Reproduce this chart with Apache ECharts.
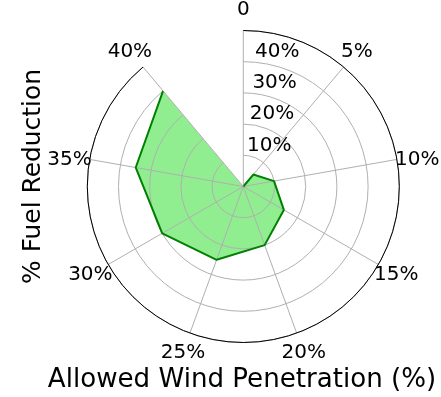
<!DOCTYPE html>
<html>
<head>
<meta charset="utf-8">
<script src="https://cdn.jsdelivr.net/npm/echarts@6/dist/echarts.min.js"></script>
<style>
  html, body { margin: 0; padding: 0; background: #fff; }
  #chart { width: 441px; height: 397px; }
</style>
</head>
<body>
<div id="chart"></div>
<script>
// Allowed wind penetration levels (angular categories, clockwise from top)
const penetrationLevels = ['0', '5%', '10%', '15%', '20%', '25%', '30%', '35%', '40%'];
// Fuel reduction (%) achieved at each penetration level
const fuelReduction = [0, 5, 10, 15, 20, 25, 30, 35, 40];
// Radial scale
const radialMin = 0;
const radialMax = 50;
const radialStep = 10;

const FONT = 'DejaVu Sans';

// Per-label padding [top, right, bottom, left] so every angular label sits
// centred on a ring just outside the plot circle.
const anglePadding = [
  [0, 0, 10.5, 0],
  [0, 0, 5.7, -2.6],
  [0, 0, 7, -2],
  [0.3, 0, 0, -4.4],
  [9.3, 0, 0, -15.2],
  [9.3, -15.2, 0, 0],
  [0.3, -4.4, 0, 0],
  [0, -2, 7, 0],
  [0, -9.1, 5.7, 0]
];

// Radial labels lean slightly clockwise off the vertical spoke
const radialLabelRich = {};
for (let v = radialMin + radialStep; v < radialMax; v += radialStep) {
  radialLabelRich['r' + v] = { padding: [0, 0, 0, v * 0.27] };
}

const chart = echarts.init(document.getElementById('chart'), null, { renderer: 'canvas' });

chart.setOption({
  backgroundColor: '#ffffff',
  animation: false,
  polar: { center: [243.3, 186.5], radius: 156 },
  angleAxis: {
    type: 'category',
    data: penetrationLevels.map((name, i) => ({
      value: name,
      textStyle: { padding: anglePadding[i] }
    })),
    startAngle: 90,
    clockwise: true,
    boundaryGap: false,
    z: 2,
    axisLine: { show: true, lineStyle: { color: '#000', width: 1 } },
    axisTick: { show: false },
    axisLabel: { show: true, margin: 0, color: '#000', fontFamily: FONT, fontSize: 20 },
    splitLine: { show: true, lineStyle: { color: '#b0b0b0', width: 1 } }
  },
  radiusAxis: {
    type: 'value',
    min: radialMin,
    max: radialMax,
    interval: radialStep,
    z: 2,
    axisLine: { show: false },
    axisTick: { show: false },
    axisLabel: {
      show: true,
      showMinLabel: false,
      showMaxLabel: false,
      margin: -1,
      align: 'left',
      verticalAlign: 'bottom',
      color: '#000',
      fontFamily: FONT,
      fontSize: 20,
      formatter: v => '{r' + v + '|' + v + '%}',
      rich: radialLabelRich
    },
    splitLine: { show: true, lineStyle: { color: '#b0b0b0', width: 1 } }
  },
  series: [
    {
      // filled region, drawn beneath the grid
      type: 'line',
      coordinateSystem: 'polar',
      data: fuelReduction,
      z: 1,
      symbol: 'none',
      lineStyle: { width: 0, opacity: 0 },
      areaStyle: { color: '#90ee90', opacity: 1 }
    },
    {
      // outline on top of the grid
      type: 'line',
      coordinateSystem: 'polar',
      data: fuelReduction,
      z: 3,
      symbol: 'none',
      lineStyle: { color: '#008000', width: 2 }
    }
  ],
  graphic: [
    {
      type: 'text',
      x: 242, y: 380,
      style: { text: 'Allowed Wind Penetration (%)', font: '26.1px "DejaVu Sans"', fill: '#000', align: 'center', verticalAlign: 'middle' }
    },
    {
      type: 'text',
      x: 34, y: 176.5,
      rotation: Math.PI / 2,
      style: { text: '% Fuel Reduction', font: '24.9px "DejaVu Sans"', fill: '#000', align: 'center', verticalAlign: 'middle' }
    }
  ]
});
</script>
</body>
</html>
